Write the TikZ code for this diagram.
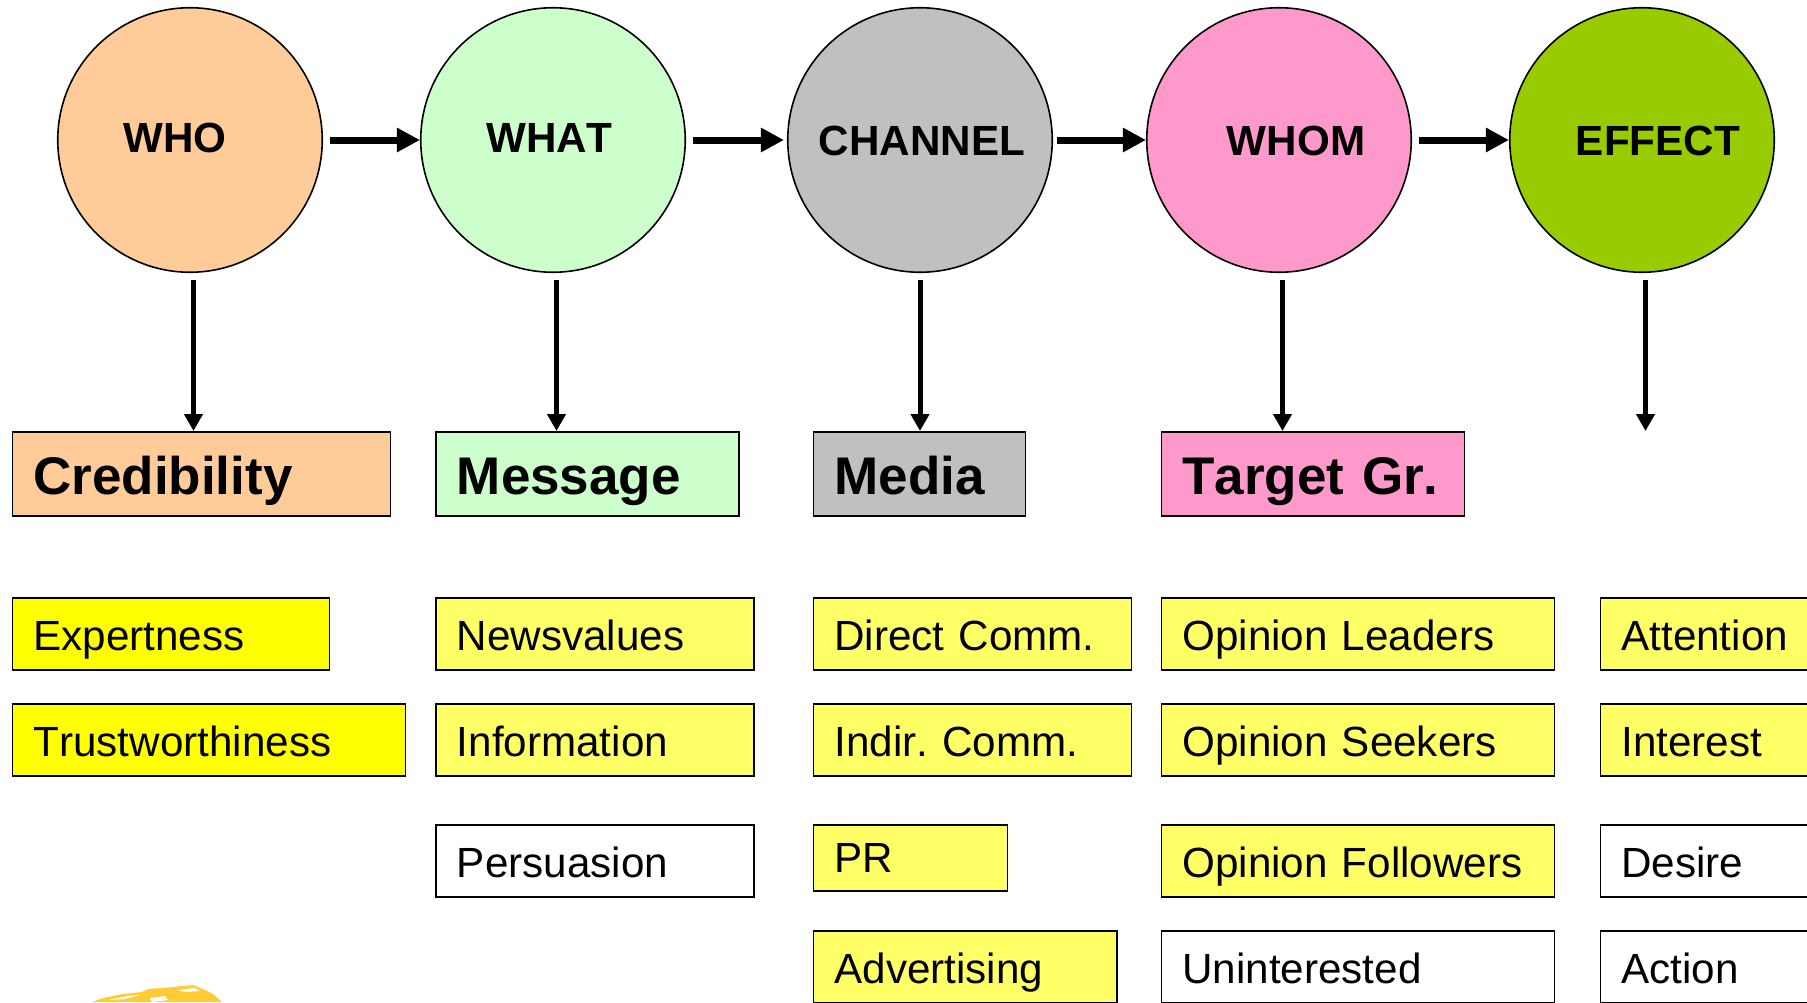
\documentclass[tikz,border=0pt]{standalone}
\usepackage{fontspec}
\setmainfont[Kerning=Off]{Liberation Sans}
\usepackage{tikz}
\usetikzlibrary{arrows.meta,positioning}

\definecolor{peach}{HTML}{FFCC99}
\definecolor{mint}{HTML}{CCFFCC}
\definecolor{ash}{HTML}{C0C0C0}
\definecolor{rose}{HTML}{FF99CC}
\definecolor{olive}{HTML}{99CC00}
\definecolor{fullyellow}{RGB}{255,255,0}
\definecolor{paleyellow}{HTML}{FFFF66}
\definecolor{splash}{HTML}{FFCC33}

\tikzset{
  bubble/.style={draw,shape=circle,line width=1.6pt,minimum size=264.5pt,inner sep=0pt},
  bubtext/.style={font=\fontsize{42.2}{48}\selectfont\bfseries,inner sep=0pt},
  headbox/.style={draw,line width=1.8pt,anchor=north west,minimum height=84pt,
    inner ysep=0pt,inner xsep=21pt,text width=#1-42pt,text height=40.5pt,text depth=0pt,align=left,
    font=\frenchspacing\fontsize{53}{60}\selectfont\bfseries},
  itembox/.style={draw,line width=1.8pt,anchor=north west,minimum height=72pt,
    inner ysep=0pt,inner xsep=21pt,text width=#1-42pt,text height=34pt,text depth=0pt,align=left,
    font=\frenchspacing\fontsize{42.2}{48}\selectfont},
  flow/.style={line width=7pt,-{Triangle[length=23pt,width=23pt]},shorten <=7pt},
  drop/.style={line width=5pt,-{Triangle[length=17pt,width=18pt]},shorten <=7pt}
}

\begin{document}
\begin{tikzpicture}[x=1pt,y=-1pt]
\clip (0,0) rectangle (1807,1002);

\path (190,140)  node[bubble,fill=peach] (B1) {};
\path (553,140)  node[bubble,fill=mint] (B2) {};
\path (920,140)  node[bubble,fill=ash] (B3) {};
\path (1279,140) node[bubble,fill=rose] (B4) {};
\path (1642,140) node[bubble,fill=olive] (B5) {};

\path (175,138)  node[bubtext] (T1) {WHO};
\path (549.5,138)  node[bubtext] (T2) {WHAT};
\path (922,141)  node[bubtext] (T3) {CHANNEL};
\path (1296,141) node[bubtext] (T4) {WHOM};
\path (1658,141) node[bubtext] (T5) {EFFECT};

\draw[flow] (B1) to (B2);
\draw[flow,shorten >=3pt] (B2) to (B3);
\draw[flow,shorten <=4pt] (B3) to (B4);
\draw[flow] (B4) to (B5);

% heads
\path (11.5,431)   node[headbox=378pt,fill=peach] (H1) {Credibility};
\path (435,431)    node[headbox=303pt,fill=mint] (H2) {Message};
\path (812.5,431)  node[headbox=212pt,fill=ash] (H3) {Media};
\path (1160.5,431) node[headbox=303pt,fill=rose] (H4) {Target Gr.};
\coordinate (H5) at (1645.5,431);

\draw[drop] ([xshift=3.5pt]B1.south) to ([xshift=3.5pt]B1.south |- H1.north);
\draw[drop] ([xshift=3.5pt]B2.south) to ([xshift=3.5pt]B2.south |- H2.north);
\draw[drop] (B3.south) to (B3.south |- H3.north);
\draw[drop] ([xshift=3.5pt]B4.south) to ([xshift=3.5pt]B4.south |- H4.north);
\draw[drop] ([xshift=3.5pt]B5.south) to (H5);

% who
\path (11.5,597) node[itembox=317pt,fill=fullyellow] (A1) {Expertness};
\path (11.5,703) node[itembox=393pt,fill=fullyellow] (A2) {Trustworthiness};

% what
\path (435,597) node[itembox=318pt,fill=paleyellow] (M1) {Newsvalues};
\path (435,703) node[itembox=318pt,fill=paleyellow] (M2) {Information};
\path (435,824) node[itembox=318pt,fill=white] (M3) {Persuasion};

% channel
\path (812.5,597) node[itembox=318pt,fill=paleyellow] (C1) {Direct Comm.};
\path (812.5,703) node[itembox=318pt,fill=paleyellow] (C2) {Indir. Comm.};
\path (812.5,824) node[itembox=194pt,fill=paleyellow,minimum height=66pt,text height=30pt] (C3) {PR};
\path (812.5,930) node[itembox=303.5pt,fill=paleyellow] (C4) {Advertising};

% whom
\path (1160.5,597) node[itembox=393pt,fill=paleyellow] (G1) {Opinion Leaders};
\path (1160.5,703) node[itembox=393pt,fill=paleyellow] (G2) {Opinion Seekers};
\path (1160.5,824) node[itembox=393pt,fill=paleyellow] (G3) {Opinion Followers};
\path (1160.5,930) node[itembox=393pt,fill=white] (G4) {Uninterested};

% effect
\path (1599.5,597) node[itembox=260pt,fill=paleyellow] (E1) {Attention};
\path (1599.5,703) node[itembox=260pt,fill=paleyellow] (E2) {Interest};
\path (1599.5,824) node[itembox=260pt,fill=white] (E3) {Desire};
\path (1599.5,930) node[itembox=260pt,fill=white] (E4) {Action};

% torn edge of the logo
\fill[splash] (92,1002) -- (103,998) -- (123,994) -- (142,992) -- (148,989) -- (173,987)
  -- (193,985) -- (203,989) -- (213,994) -- (222,1002) -- cycle;
\fill[white] (108,1000) -- (128,996) -- (140,995) -- (125,999) -- cycle;
\fill[white] (150,998) -- (165,996) -- (168,1000) -- (152,1002) -- cycle;
\fill[white] (178,990) -- (195,988) -- (200,991) -- (185,992) -- cycle;
\end{tikzpicture}
\end{document}
